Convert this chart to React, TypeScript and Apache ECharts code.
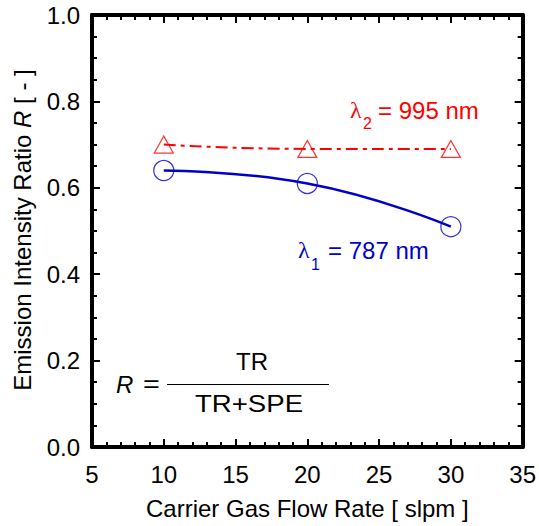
import React, { useEffect, useRef } from "react";
import * as echarts from "echarts";

// ---- data ----
const flowRates = [10, 20, 30]; // slpm
const ratioLambda1 = [0.64, 0.61, 0.51]; // λ1 = 787 nm
const ratioLambda2 = [0.70, 0.69, 0.69]; // λ2 = 995 nm
const xRange = { min: 5, max: 35, interval: 5 };
const yRange = { min: 0, max: 1, interval: 0.2 };

const BLUE = "#0000cc";
const RED = "#ff0000";
const FONT = "Liberation Sans, Arial, sans-serif";
const SERIF = "Liberation Serif, serif";

function txt(x: number, y: number, text: string, size: number, fill: string, extra: any = {}, styleExtra: any = {}) {
  return {
    type: "text",
    x,
    y,
    ...extra,
    style: { text, fontSize: size, fontFamily: FONT, fill, verticalAlign: "middle", ...styleExtra },
  };
}

export default function App() {
  const ref = useRef<HTMLDivElement>(null);
  useEffect(() => {
    if (!ref.current) return;
    const chart = echarts.init(ref.current, undefined, { renderer: "svg" });
    const pts1 = flowRates.map((x, i) => [x, ratioLambda1[i]]);
    const pts2 = flowRates.map((x, i) => [x, ratioLambda2[i]]);

    const axisCommon = {
      axisLine: { show: true, onZero: false, lineStyle: { color: "#000", width: 4 } },
      axisTick: { show: true, inside: true, length: 8, lineStyle: { color: "#000", width: 2 } },
      minorTick: { show: true, length: 5, lineStyle: { color: "#000", width: 2 } },
      splitLine: { show: false },
    };

    const option: any = {
      animation: false,
      backgroundColor: "#fff",
      grid: { left: 92, right: 14.5, top: 15, bottom: 79, containLabel: false },
      xAxis: [
        {
          type: "value",
          ...xRange,
          ...axisCommon,
          minorTick: { ...axisCommon.minorTick, splitNumber: 5 },
          axisLabel: { color: "#000", fontSize: 24, fontFamily: FONT, margin: 15 },
          name: "Carrier Gas Flow Rate [ slpm ]",
          nameLocation: "middle",
          nameGap: 49,
          nameTextStyle: { color: "#000", fontSize: 24, fontFamily: FONT },
        },
        {
          type: "value",
          position: "top",
          ...xRange,
          ...axisCommon,
          minorTick: { ...axisCommon.minorTick, splitNumber: 5 },
          axisLabel: { show: false },
        },
      ],
      yAxis: [
        {
          type: "value",
          ...yRange,
          ...axisCommon,
          minorTick: { ...axisCommon.minorTick, splitNumber: 4 },
          axisLabel: {
            color: "#000",
            fontSize: 24,
            fontFamily: FONT,
            margin: 12,
            formatter: (v: number) => v.toFixed(1),
          },
        },
        {
          type: "value",
          position: "right",
          ...yRange,
          ...axisCommon,
          minorTick: { ...axisCommon.minorTick, splitNumber: 4 },
          axisLabel: { show: false },
        },
      ],
      series: [
        {
          type: "line",
          data: pts1,
          smooth: 0.5,
          symbol: "none",
          lineStyle: { color: BLUE, width: 2.5 },
          z: 2,
        },
        {
          type: "line",
          data: pts2,
          smooth: 0.5,
          symbol: "none",
          lineStyle: { color: RED, width: 2, type: [12, 5, 4, 5] },
          z: 2,
        },
        {
          type: "scatter",
          data: pts1,
          symbol: "circle",
          symbolSize: 20,
          itemStyle: { color: "transparent", borderColor: BLUE, borderWidth: 1.2 },
          z: 3,
        },
        {
          type: "scatter",
          data: pts2,
          symbol: "triangle",
          symbolSize: [19, 17],
          itemStyle: { color: "transparent", borderColor: RED, borderWidth: 1.2 },
          z: 3,
        },
      ],
      graphic: [
        // y-axis title
        {
          type: "text",
          x: 22,
          y: 230,
          rotation: Math.PI / 2,
          style: {
            text: "{a|Emission Intensity Ratio }{i|R}{a| [ - ]}",
            align: "center",
            verticalAlign: "middle",
            fill: "#000",
            fontSize: 24,
            fontFamily: FONT,
            rich: {
              a: { fontSize: 24, fontFamily: FONT, fill: "#000" },
              i: { fontSize: 24, fontFamily: FONT, fill: "#000", fontStyle: "italic" },
            },
          },
        },
        // λ2 label
        txt(350, 110, "λ", 24, RED, {}, { fontFamily: SERIF }),
        txt(363, 123, "2", 16, RED),
        txt(378, 110.5, "= 995 nm", 24, RED),
        // λ1 label
        txt(298, 250, "λ", 24, BLUE, {}, { fontFamily: SERIF }),
        txt(311, 264, "1", 16, BLUE),
        txt(328, 250.5, "= 787 nm", 24, BLUE),
        // formula
        txt(116, 384, "R", 24, "#000", {}, { fontStyle: "italic" }),
        txt(143, 384, "=", 24, "#000", { scaleX: 1.2 }),
        { type: "line", shape: { x1: 167, y1: 384.5, x2: 329, y2: 384.5 }, style: { stroke: "#000", lineWidth: 1 } },
        txt(252, 361, "TR", 24, "#000", {}, { align: "center" }),
        txt(249, 404, "TR+SPE", 24, "#000", { scaleX: 1.15 }, { align: "center" }),
      ],
    };
    chart.setOption(option);
    return () => chart.dispose();
  }, []);
  return (
    <div
      ref={ref}
      style={{ position: "fixed", left: 0, top: 0, width: 539, height: 526, background: "#fff" }}
    />
  );
}
